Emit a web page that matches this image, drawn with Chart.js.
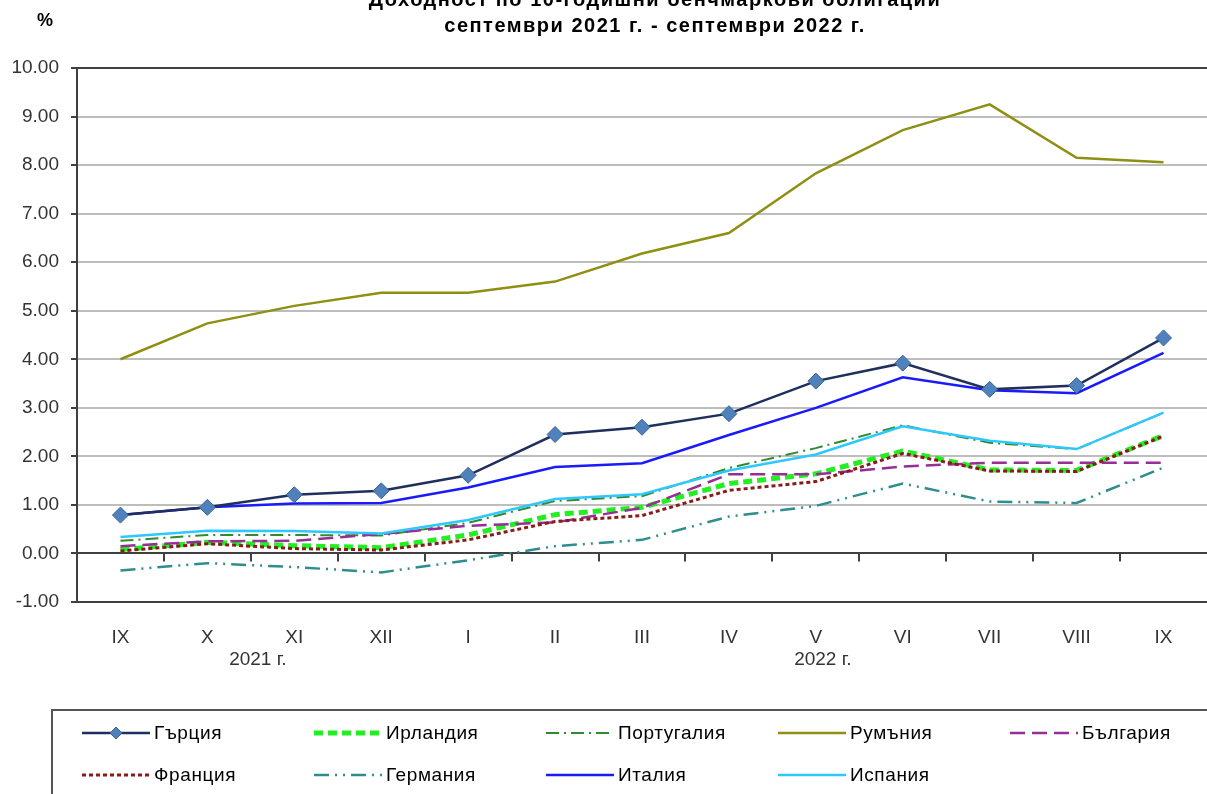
<!DOCTYPE html>
<html>
<head>
<meta charset="utf-8">
<script src="https://cdn.jsdelivr.net/npm/chart.js@4.4.0/dist/chart.umd.min.js"></script>
<style>
  html, body { margin: 0; padding: 0; background: #fff; }
  #wrap { width: 1207px; height: 794px; position: relative; overflow: hidden; }
</style>
</head>
<body>
<div id="wrap"><canvas id="yieldChart" width="1216" height="794"></canvas></div>
<script>
// месеци и години
const months = ['IX', 'X', 'XI', 'XII', 'I', 'II', 'III', 'IV', 'V', 'VI', 'VII', 'VIII', 'IX'];
const yearLabels = ['2021 г.', '2022 г.'];
const yearFirst = [0, 4];   // индекс на първия месец от годината
const yearLast = [3, 12];   // индекс на последния месец

const seriesNames = ['Гърция', 'Ирландия', 'Португалия', 'Румъния', 'България', 'Франция', 'Германия', 'Италия', 'Испания'];

// доходност, %
const greece   = [0.79, 0.95, 1.21, 1.29, 1.61, 2.45, 2.60, 2.88, 3.55, 3.92, 3.38, 3.46, 4.44];
const ireland  = [0.08, 0.23, 0.16, 0.12, 0.38, 0.80, 0.95, 1.44, 1.64, 2.11, 1.72, 1.71, 2.43];
const portugal = [0.26, 0.38, 0.38, 0.37, 0.63, 1.08, 1.18, 1.76, 2.17, 2.64, 2.28, 2.15, 2.90];
const romania  = [4.00, 4.74, 5.10, 5.37, 5.37, 5.60, 6.18, 6.60, 7.83, 8.72, 9.25, 8.15, 8.06];
const bulgaria = [0.15, 0.25, 0.26, 0.40, 0.57, 0.64, 0.94, 1.63, 1.63, 1.79, 1.87, 1.87, 1.87];
const france   = [0.05, 0.20, 0.10, 0.07, 0.28, 0.66, 0.78, 1.30, 1.48, 2.06, 1.70, 1.69, 2.42];
const germany  = [-0.35, -0.20, -0.28, -0.39, -0.14, 0.15, 0.28, 0.76, 0.98, 1.44, 1.07, 1.04, 1.77];
const italy    = [0.79, 0.95, 1.03, 1.04, 1.36, 1.78, 1.86, 2.44, 3.00, 3.63, 3.36, 3.30, 4.13];
const spain    = [0.34, 0.47, 0.46, 0.41, 0.69, 1.12, 1.22, 1.71, 2.04, 2.62, 2.32, 2.15, 2.90];

const yMin = -1;
const yMax = 10;

const FONT = "'Liberation Sans', Arial, sans-serif";
const DARK = '#404040';

function line(label, data, color, width, dash, order) {
    return {
        label: label,
        data: data,
        borderColor: color,
        backgroundColor: color,
        borderWidth: width,
        borderDash: dash,
        pointRadius: 0,
        tension: 0,
        fill: false,
        order: order
    };
}

const datasets = [
    Object.assign(line(seriesNames[0], greece, '#1F2F5E', 2.5, [], 0), {
        pointStyle: 'rectRot', pointRadius: 8,
        pointBackgroundColor: '#4F81BD', pointBorderColor: '#3A6494', pointBorderWidth: 1
    }),
    line(seriesNames[1], ireland, '#22EE22', 5, [9, 5], 8),
    line(seriesNames[2], portugal, '#2E8B2E', 2, [13, 5, 2, 5], 7),
    line(seriesNames[3], romania, '#8F8F14', 2.5, [], 6),
    line(seriesNames[4], bulgaria, '#962E96', 2.5, [15, 7], 5),
    line(seriesNames[5], france, '#8B1A1A', 3, [4, 3], 4),
    line(seriesNames[6], germany, '#2E8E8E', 2.5, [15, 6, 2, 6, 2, 6], 3),
    line(seriesNames[7], italy, '#1A1AFF', 2.5, [], 2),
    line(seriesNames[8], spain, '#2EC8FF', 2.5, [], 1)
];

// заглавие, %, години, чертички на нулата и легенда
const extrasPlugin = {
    id: 'extras',
    afterDraw(chart) {
        const ctx = chart.ctx;
        const x = chart.scales.x;
        const y = chart.scales.y;
        ctx.save();

        // заглавие
        ctx.fillStyle = '#000';
        ctx.textAlign = 'center';
        ctx.textBaseline = 'alphabetic';
        ctx.font = 'bold 20px ' + FONT;
        ctx.letterSpacing = '1.5px';
        ctx.fillText('Доходност по 10-годишни бенчмаркови облигации', 655, 6);
        ctx.fillText('септември 2021 г. - септември 2022 г.', 655, 32);
        ctx.letterSpacing = '0px';
        ctx.font = 'bold 18px ' + FONT;
        ctx.fillText('%', 45, 26);

        // чертички по нулевата линия
        const y0 = y.getPixelForValue(0);
        ctx.strokeStyle = DARK;
        ctx.lineWidth = 2;
        for (let i = 0; i < months.length - 1; i++) {
            const px = Math.round((x.getPixelForValue(i) + x.getPixelForValue(i + 1)) / 2);
            ctx.beginPath();
            ctx.moveTo(px, y0);
            ctx.lineTo(px, y0 + 8);
            ctx.stroke();
        }

        // години под месеците
        ctx.fillStyle = '#333';
        ctx.font = '19px ' + FONT;
        yearLabels.forEach((txt, i) => {
            const cx = (x.getPixelForValue(yearFirst[i]) + x.getPixelForValue(yearLast[i])) / 2 + 7;
            ctx.fillText(txt, cx, 665);
        });

        // легенда
        ctx.strokeStyle = '#555';
        ctx.lineWidth = 2;
        ctx.strokeRect(52, 710, 1200, 120);
        ctx.textAlign = 'left';
        ctx.textBaseline = 'middle';
        ctx.font = '19px ' + FONT;
        ctx.letterSpacing = '0.6px';
        chart.data.datasets.forEach((ds, i) => {
            const col = i < 5 ? i : i - 5;
            const row = i < 5 ? 0 : 1;
            const sx = 82 + col * 232;
            const sy = row === 0 ? 733 : 775;
            ctx.save();
            ctx.strokeStyle = ds.borderColor;
            ctx.lineWidth = ds.borderWidth;
            ctx.setLineDash(ds.borderDash);
            ctx.beginPath();
            ctx.moveTo(sx, sy);
            ctx.lineTo(sx + 68, sy);
            ctx.stroke();
            ctx.restore();
            if (ds.pointStyle === 'rectRot') {
                const mx = sx + 34, r = 6;
                ctx.beginPath();
                ctx.moveTo(mx, sy - r);
                ctx.lineTo(mx + r, sy);
                ctx.lineTo(mx, sy + r);
                ctx.lineTo(mx - r, sy);
                ctx.closePath();
                ctx.fillStyle = ds.pointBackgroundColor;
                ctx.fill();
                ctx.strokeStyle = ds.pointBorderColor;
                ctx.lineWidth = 1;
                ctx.stroke();
            }
            ctx.fillStyle = '#000';
            ctx.fillText(ds.label, sx + 72, sy + 1);
        });
        ctx.restore();
    }
};

new Chart(document.getElementById('yieldChart').getContext('2d'), {
    type: 'line',
    data: { labels: months, datasets: datasets },
    options: {
        responsive: false,
        animation: false,
        events: [],
        layout: { padding: { top: 68, right: 0, bottom: 0, left: 0 } },
        plugins: {
            legend: { display: false },
            title: { display: false },
            tooltip: { enabled: false }
        },
        scales: {
            x: {
                offset: true,
                grid: { display: false },
                border: { display: true, color: DARK, width: 2 },
                ticks: { color: '#333', font: { family: FONT, size: 19 }, padding: 16, maxRotation: 0 },
                afterFit(scale) { scale.height = 192; }
            },
            y: {
                min: yMin,
                max: yMax,
                ticks: {
                    stepSize: 1,
                    color: '#333',
                    padding: 12,
                    font: { family: FONT, size: 19 },
                    callback: v => v.toFixed(2)
                },
                grid: {
                    color: c => (c.tick && [yMax, 0, yMin].includes(c.tick.value)) ? DARK : '#bdbdbd',
                    lineWidth: 2,
                    tickLength: 6,
                    tickColor: DARK
                },
                border: { display: true, color: DARK, width: 2 },
                afterFit(scale) { scale.width = 77; }
            }
        }
    },
    plugins: [extrasPlugin]
});
</script>
</body>
</html>
